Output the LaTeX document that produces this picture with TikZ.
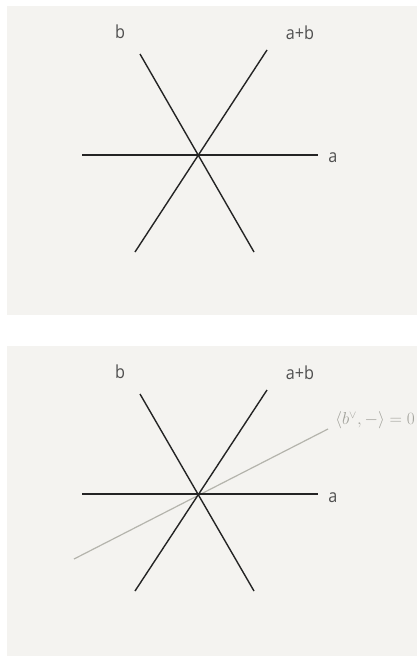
\documentclass[tikz,border=0pt]{standalone}
\usepackage{fontspec}
\setmainfont{Open Sans}
\definecolor{paper}{HTML}{F4F3F0}
\definecolor{ink}{HTML}{242424}
\definecolor{pencil}{HTML}{B4B4AC}
\tikzset{
  root/.style={draw=ink, line width=1.4pt},
  wall/.style={draw=pencil, line width=1.2pt},
  lbl/.style={text=ink!80, font=\fontsize{18}{20}\selectfont\addfontfeatures{FakeStretch=0.9}},
  glbl/.style={text=pencil!90!black, font=\fontsize{16}{18}\selectfont}
}
\begin{document}
\begin{tikzpicture}[x=1pt,y=-1pt]
\useasboundingbox (0,0) rectangle (417,656);
\fill[paper] (7,6) rectangle (417,315);
\fill[paper] (7,346) rectangle (417,656);
% upper panel: the roots a, b, a+b
\node[lbl] (lb) at (120,32) {b};
\node[lbl] (lab) at (300,33) {a+b};
\node[lbl] (la) at (333,158) {a};
\draw[root] (82,155) -- (318,155);
\draw[root] (140,54) -- (254,252);
\draw[root] (267,50) -- (135,252);
% lower panel: same roots with the wall of b
\begin{scope}[shift={(0,339)}]
\draw[wall] (74,220) -- (328,90);
\node[glbl] (lwall) at (375,81) {$\langle b^{\vee},-\rangle=0$};
\node[lbl] (lb2) at (120,33) {b};
\node[lbl] (lab2) at (300,34) {a+b};
\node[lbl] (la2) at (333,159) {a};
\draw[root] (82,155) -- (318,155);
\draw[root] (140,55) -- (254,252);
\draw[root] (267,51) -- (135,252);
\end{scope}
\end{tikzpicture}
\end{document}
